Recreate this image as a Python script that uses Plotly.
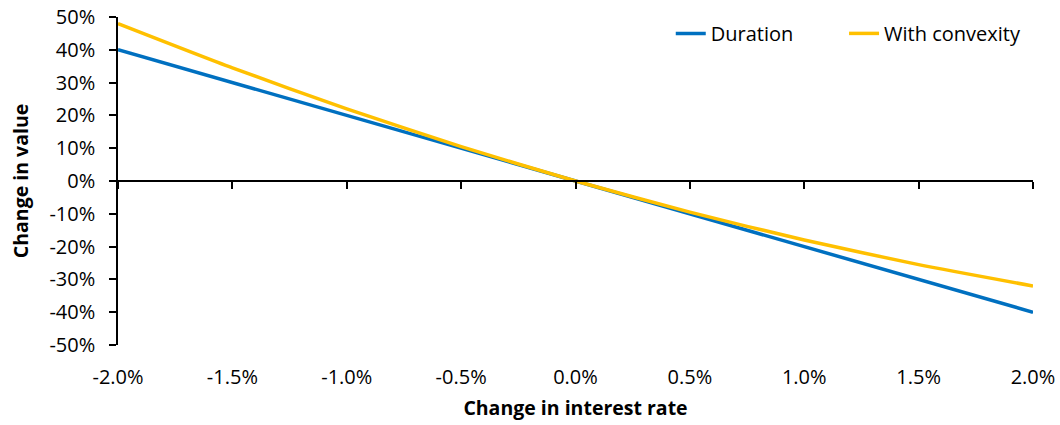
import plotly.graph_objects as go

# Change in interest rate (%), and change in bond value (%)
rate_change = [-2.0, -1.5, -1.0, -0.5, 0.0, 0.5, 1.0, 1.5, 2.0]
duration_only = [40, 30, 20, 10, 0, -10, -20, -30, -40]
with_convexity = [48, 34.5, 22, 10.5, 0, -9.5, -18, -25.5, -32]

x_ticks = [-2.0, -1.5, -1.0, -0.5, 0.0, 0.5, 1.0, 1.5, 2.0]
x_tick_text = ["-2.0%", "-1.5%", "-1.0%", "-0.5%", "0.0%", "0.5%", "1.0%", "1.5%", "2.0%"]
y_ticks = [50, 40, 30, 20, 10, 0, -10, -20, -30, -40, -50]
y_tick_text = ["50%", "40%", "30%", "20%", "10%", "0%", "-10%", "-20%", "-30%", "-40%", "-50%"]

FONT = "Open Sans"
FS = 20
TITLE_FS = 19.5
BLUE = "#0070C0"
GOLD = "#FFC000"

fig = go.Figure()
fig.add_trace(go.Scatter(x=rate_change, y=duration_only, mode="lines", name="Duration",
                         legend="legend",
                         line=dict(color=BLUE, width=3.5)))
fig.add_trace(go.Scatter(x=rate_change, y=with_convexity, mode="lines", name="With convexity",
                         legend="legend2",
                         line=dict(color=GOLD, width=3.5, shape="spline", smoothing=0.6)))
# invisible trace that carries the zero-crossing axis
fig.add_trace(go.Scatter(x=[rate_change[0]], y=[0], xaxis="x2", mode="lines",
                         showlegend=False, hoverinfo="skip", line=dict(width=0)))

legend_common = dict(orientation="h", y=0.95, yanchor="middle", xanchor="right",
                     font=dict(size=FS), bgcolor="rgba(0,0,0,0)")

fig.update_layout(
    width=1060, height=425,
    margin=dict(l=118, r=27, t=17, b=80, autoexpand=False),
    paper_bgcolor="white", plot_bgcolor="white",
    font=dict(family=FONT, size=FS, color="#000000"),
    xaxis=dict(
        range=[-2, 2], tickvals=x_ticks, ticktext=x_tick_text,
        showline=False, showgrid=False, zeroline=False, automargin=False,
        ticks="outside", ticklen=14, tickcolor="rgba(0,0,0,0)",
        title=dict(text="<b>Change in interest rate</b>", font=dict(size=TITLE_FS), standoff=12),
    ),
    xaxis2=dict(
        range=[-2, 2], tickvals=x_ticks, overlaying="x", anchor="free", position=0.5,
        showline=True, linecolor="#000000", linewidth=1.5,
        ticks="outside", ticklen=7, tickwidth=1.5, tickcolor="#000000",
        showticklabels=False, showgrid=False, zeroline=False,
    ),
    yaxis=dict(
        range=[-50, 50], tickvals=y_ticks, ticktext=y_tick_text,
        showline=True, linecolor="#000000", linewidth=1.5, automargin=False,
        ticks="outside", ticklen=7, tickwidth=1.5, tickcolor="#000000",
        ticklabelstandoff=10,
        showgrid=False, zeroline=False,
        title=dict(text="<b>Change in value</b>", font=dict(size=TITLE_FS), standoff=16),
    ),
    legend=dict(x=0.744, **legend_common),
    legend2=dict(x=0.9924, **legend_common),
    showlegend=True,
)

fig.write_html("out.html")
